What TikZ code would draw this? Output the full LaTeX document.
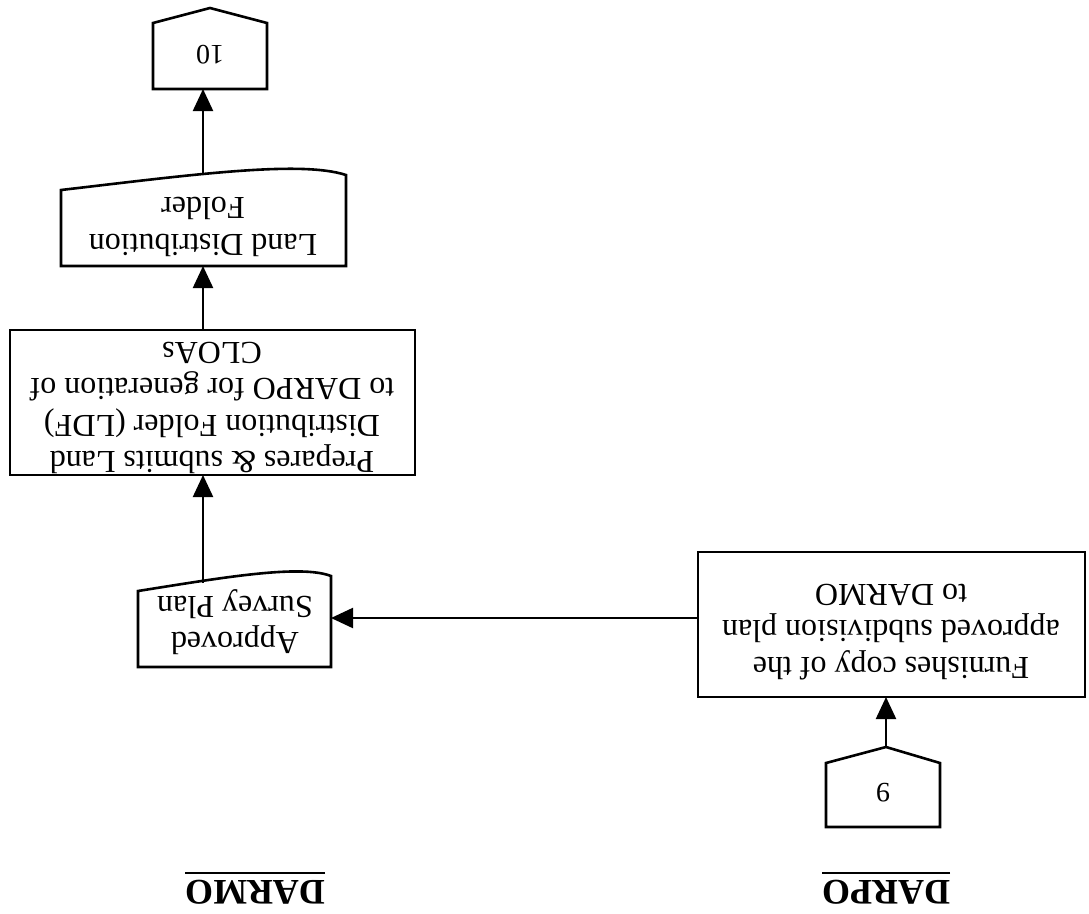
\documentclass[tikz,border=0pt]{standalone}
\usepackage{fontspec}
\setmainfont{Liberation Serif}
\usetikzlibrary{arrows.meta}
\begin{document}
\begin{tikzpicture}[x=1pt,y=-1pt,
  outline/.style={line width=2.6pt, line join=miter},
  flow/.style={line width=2.2pt, -{Triangle[length=22pt,width=20pt]}},
  txt/.style={rotate=180, align=center, inner sep=0pt, font=\fontsize{32}{36.5}\selectfont},
  num/.style={rotate=180, inner sep=0pt, font=\fontsize{28}{32}\selectfont},
  unit/.style={rotate=180, inner sep=0pt, font=\fontsize{36}{40}\selectfont\bfseries}]
\useasboundingbox (0,0) rectangle (1089,913);

% off-page connector 10
\draw[outline] (153,89) -- (153,23) -- (210,8) -- (267,23) -- (267,89) -- cycle;
\node[num] (n10) at (210,55) {10};
\coordinate (p10-in) at (203,89);

% document: Land Distribution Folder
\draw[outline] (346,175) .. controls (300,160) and (190,175) .. (61,190)
  -- (61,266) -- (346,266) -- cycle;
\node[txt] (ldf) at (203,227) {Land Distribution\\Folder};
\coordinate (ldf-out) at (203,175);
\coordinate (ldf-in) at (203,266);

% process: prepares LDF
\draw[outline] (10,330) rectangle (415,475);
\node[txt] (prep) at (212,408) {Prepares \& submits Land\\Distribution Folder (LDF)\\to DARPO for generation of\\CLOAs};
\coordinate (prep-out) at (203,330);
\coordinate (prep-in) at (203,475);

% document: Approved Survey Plan
\draw[outline] (331,576) .. controls (300,564) and (220,578) .. (138,591)
  -- (138,667) -- (331,667) -- cycle;
\node[txt] (asp) at (235,622) {Approved\\Survey Plan};
\coordinate (asp-out) at (203,583);
\coordinate (asp-in) at (331,618);

% process: furnishes subdivision plan
\draw[outline] (698,552) rectangle (1085,697);
\node[txt] (furn) at (891,632) {Furnishes copy of the\\approved subdivision plan\\to DARMO};
\coordinate (furn-out) at (698,618);
\coordinate (furn-in) at (886,697);

% off-page connector 9
\draw[outline] (826,827) -- (826,763) -- (886,747) -- (940,763) -- (940,827) -- cycle;
\node[num] (n9) at (883,793) {9};
\coordinate (p9-out) at (886,747);

% connectors
\draw[flow] (p9-out) -- (furn-in);
\draw[flow] (furn-out) -- (asp-in);
\draw[flow] (asp-out) -- (prep-in);
\draw[flow] (prep-out) -- (ldf-in);
\draw[flow] (ldf-out) -- (p10-in);

% unit labels
\node[unit] (darmo) at (255,892) {DARMO};
\node[unit] (darpo) at (886,892) {DARPO};
\draw[line width=2.4pt] ([yshift=7pt]darmo.south west) -- ([yshift=7pt]darmo.south east);
\draw[line width=2.4pt] ([yshift=7pt]darpo.south west) -- ([yshift=7pt]darpo.south east);
\end{tikzpicture}
\end{document}
